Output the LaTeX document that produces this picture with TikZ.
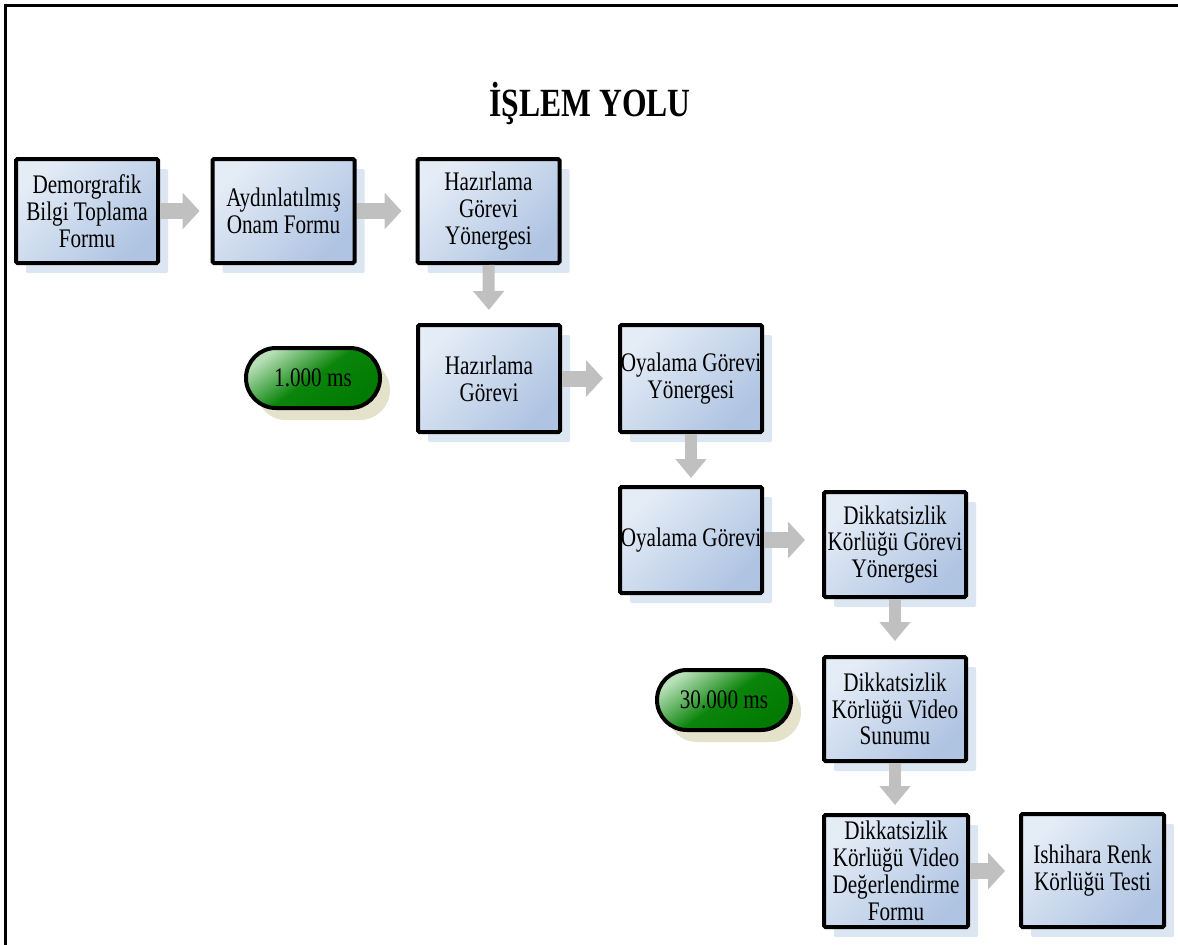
\documentclass[tikz,border=0pt]{standalone}
\usepackage{fontspec}
\setmainfont{Liberation Serif}[FakeStretch=0.79]
\usetikzlibrary{shapes.misc,shadows,arrows.meta}
\definecolor{boxlight}{HTML}{E4ECF6}
\definecolor{boxdark}{HTML}{AFC4E2}
\definecolor{shadowblue}{HTML}{DCE6F3}
\definecolor{pilllight}{HTML}{B8E0B8}
\definecolor{pillmid}{HTML}{0A840A}
\definecolor{pilldark}{HTML}{007A00}
\definecolor{pillshadow}{HTML}{E4E2CA}
\definecolor{arrowgray}{HTML}{C0C0C0}
\begin{document}
\begin{tikzpicture}[x=1pt,y=-1pt,
  stepbox/.style={draw=black, line width=4pt, rectangle, rounded corners=1.5pt,
    minimum width=142pt, minimum height=104pt, inner sep=0pt, align=center,
    font=\fontsize{26.8}{26.8}\selectfont,
    top color=boxlight, bottom color=boxdark, shading angle=45,
    drop shadow={shadow xshift=10pt, shadow yshift=-10pt, fill=shadowblue, draw=none, opacity=1}},
  pill/.style={draw=black, line width=4pt, rounded rectangle,
    minimum width=134pt, minimum height=60pt, inner sep=0pt,
    font=\fontsize{26.8}{26.8}\selectfont,
    top color=pilllight, bottom color=pilldark, middle color=pillmid, shading angle=35,
    drop shadow={shadow xshift=10pt, shadow yshift=-12pt, fill=pillshadow, draw=none, opacity=1}},
  harrow/.style={draw=arrowgray, line width=16pt, -{Triangle[width=36pt,length=17pt]}},
  varrow/.style={draw=arrowgray, line width=12pt, -{Triangle[width=30pt,length=19pt]}},
  title/.style={font=\fontsize{40}{42}\selectfont\bfseries, inner sep=0pt}
]
\useasboundingbox (0,0) rectangle (1178,945);
\draw[line width=3pt] (1178,5) -- (5,5) -- (5,945);

\node[title] (t) at (590,103) {İŞLEM YOLU};

\node[stepbox] (b1) at (87,211) {Demorgrafik\\Bilgi Toplama\\Formu};
\node[stepbox] (b2) at (283.5,211) {Aydınlatılmış\\Onam Formu};
\node[stepbox] (b3) at (488.5,211) {Hazırlama\\Görevi\\Yönergesi};
\node[stepbox, minimum height=107pt] (b4) at (489,378.5) {Hazırlama\\Görevi};
\node[stepbox, minimum height=107pt] (b5) at (691,378.5) {Oyalama Görevi\\Yönergesi};
\node[stepbox, minimum height=106pt] (b6) at (691,540) {Oyalama Görevi};
\node[stepbox, minimum height=105pt] (b7) at (895,544.5) {Dikkatsizlik\\Körlüğü Görevi\\Yönergesi};
\node[stepbox, minimum height=104pt] (b8) at (895,709) {Dikkatsizlik\\Körlüğü Video\\Sunumu};
\node[stepbox, minimum width=144pt, minimum height=112pt] (b9) at (896,871) {Dikkatsizlik\\Körlüğü Video\\Değerlendirme\\Formu};
\node[stepbox, minimum width=143pt, minimum height=113pt] (b10) at (1092.5,870.5) {Ishihara Renk\\Körlüğü Testi};

\node[pill] (p1) at (313,378) {1.000 ms};
\node[pill] (p2) at (724,700) {30.000 ms};

\draw[harrow, shorten >=11pt] (b1.east) -- (b2.west);
\draw[harrow, shorten >=14pt] (b2.east) -- (b3.west);
\draw[varrow, shorten >=13pt] (b3.south) -- (b4.north);
\draw[harrow, shorten >=15pt] (b4.east) -- (b5.west);
\draw[varrow, shorten >=7pt] (b5.south) -- (b6.north);
\draw[harrow, shorten >=17pt] (b6.east) -- (b6.east -| b7.west);
\draw[varrow, shorten >=14pt] (b7.south) -- (b8.north);
\draw[varrow, shorten >=8pt] (b8.south) -- (b8.south |- b9.north);
\draw[harrow, shorten >=14pt] (b9.east) -- (b9.east -| b10.west);
\end{tikzpicture}
\end{document}
